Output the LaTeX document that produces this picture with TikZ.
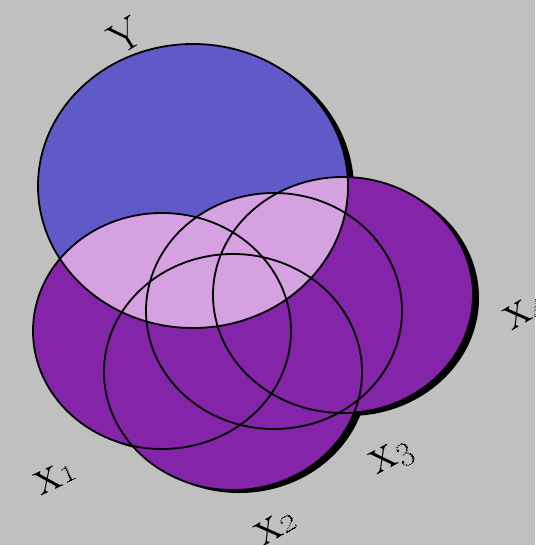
\documentclass[tikz,border=0pt]{standalone}

\definecolor{bgGray}{RGB}{192,192,192}
\definecolor{yBlue}{RGB}{96,90,200}
\definecolor{xPurple}{RGB}{132,36,168}
\definecolor{xyPink}{RGB}{213,161,224}

\begin{document}
\begin{tikzpicture}[
        x=1pt, y=-1pt,
        font=\fontsize{44}{44}\selectfont,
        rim/.style={draw=black, line width=1.8pt},
        shadow/.style={fill=black},
        set label/.style={inner sep=0pt, text=black},
    ]

    % Nền xám và khung hình
    \fill[bgGray] (0,0) rectangle (535,545);
    \useasboundingbox (0,0) rectangle (535,545);

    % Elip Y: tâm, bán kính
    \def\yellipse{(193,186) ellipse [x radius=155, y radius=142]}

    % Dữ liệu các elip X: tâm x/tâm y/bán kính x/bán kính y
    \def\xdata{162/331/129/118, 233/372/129/118, 274/311/128/118, 343/295/130/118}

    % Bóng đổ phía dưới bên phải
    \fill[shadow, shift={(6,3)}] \yellipse;
    \foreach \cx/\cy/\rx/\ry in \xdata {
        \fill[shadow, shift={(6,3)}] (\cx,\cy) ellipse [x radius=\rx, y radius=\ry];
    }

    % Tô màu các elip X
    \foreach \cx/\cy/\rx/\ry in \xdata {
        \fill[xPurple] (\cx,\cy) ellipse [x radius=\rx, y radius=\ry];
    }

    % Tô màu elip Y
    \fill[yBlue] \yellipse;

    % Phần giao giữa Y và các X
    \begin{scope}
        \clip \yellipse;
        \foreach \cx/\cy/\rx/\ry in \xdata {
            \fill[xyPink] (\cx,\cy) ellipse [x radius=\rx, y radius=\ry];
        }
    \end{scope}

    % Viền đen
    \draw[rim] \yellipse;
    \foreach \cx/\cy/\rx/\ry in \xdata {
        \draw[rim] (\cx,\cy) ellipse [x radius=\rx, y radius=\ry];
    }

    % Nhãn
    \node[set label, rotate=32] (lbl-y) at (125,36) {Y};
    \foreach \n/\px/\py/\ang in {1/55/477/25, 2/275/527/30, 3/392/458/28, 4/526/314/30} {
        \node[set label, rotate=\ang] (lbl-x\n) at (\px,\py) {\textsc{x}\oldstylenums{\n}};
    }

\end{tikzpicture}
\end{document}
